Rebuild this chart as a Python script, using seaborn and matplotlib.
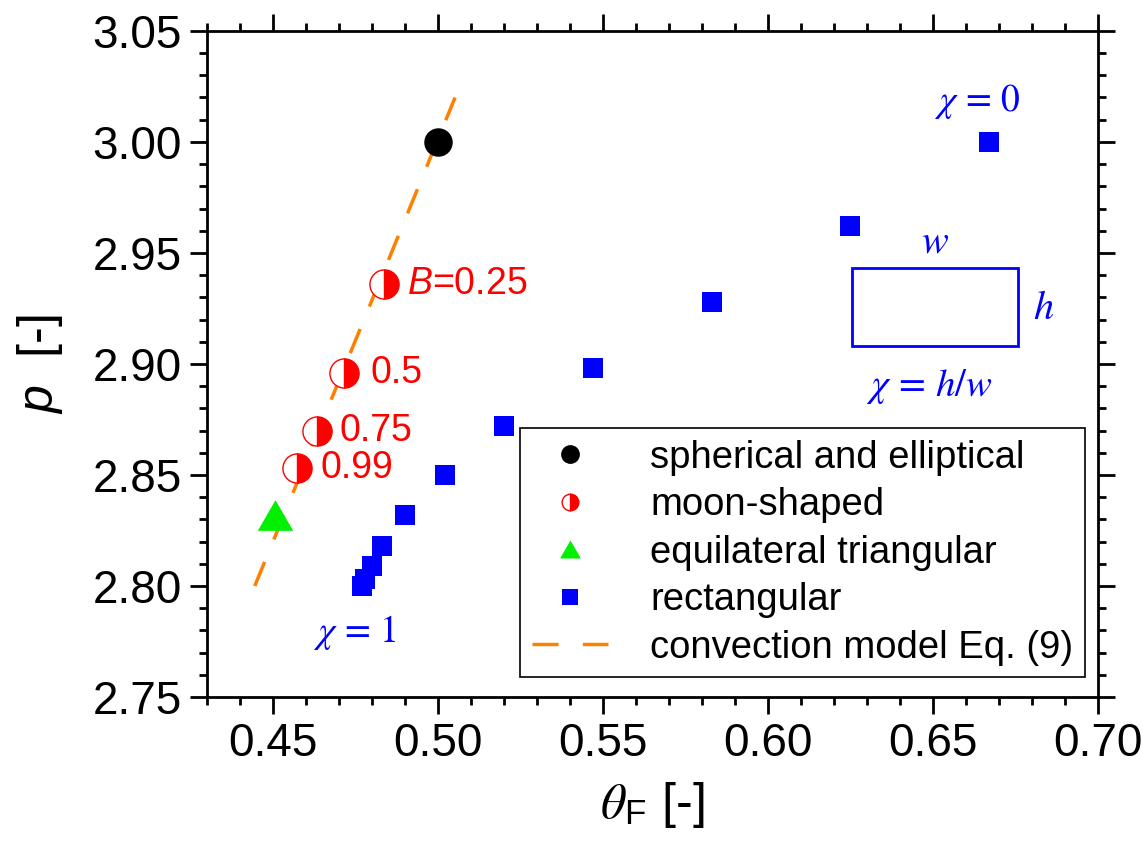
import numpy as np
import pandas as pd
import matplotlib
matplotlib.use('Agg')
import matplotlib.pyplot as plt
from matplotlib.lines import Line2D
from matplotlib.patches import Rectangle
from matplotlib.ticker import MultipleLocator, FormatStrFormatter
import seaborn as sns

# spherical and elliptical
sphere_theta = [0.500]
sphere_p = [3.000]

# moon-shaped, B = 0.25 ... 0.99
moon_labels = ['$B$=0.25', '0.5', '0.75', '0.99']
moon_theta = [0.4836, 0.4715, 0.4633, 0.4573]
moon_p = [2.936, 2.896, 2.870, 2.853]

# equilateral triangular
tri_theta = [0.4505]
tri_p = [2.832]

# rectangular, chi = 0 ... 1
rect_theta = [0.667, 0.625, 0.583, 0.547, 0.520, 0.502, 0.490, 0.483, 0.480, 0.478, 0.477]
rect_p = [3.000, 2.962, 2.928, 2.898, 2.872, 2.850, 2.832, 2.818, 2.809, 2.803, 2.800]

# convection model Eq. (9)
model_theta = [0.4445, 0.5052]
model_p = [2.800, 3.020]

sns.set_theme(style='white')
plt.rcParams['font.family'] = ['Liberation Sans', 'DejaVu Sans']
plt.rcParams['mathtext.fontset'] = 'custom'
plt.rcParams['mathtext.rm'] = 'Liberation Sans'
plt.rcParams['mathtext.it'] = 'Liberation Sans:italic'
plt.rcParams['mathtext.sf'] = 'Liberation Sans'
plt.rcParams['mathtext.bf'] = 'Liberation Sans:bold'
for k in ['text.color', 'axes.labelcolor', 'xtick.color', 'ytick.color', 'axes.edgecolor']:
    plt.rcParams[k] = 'black'

ORANGE = '#FF8000'
GREEN = '#00F000'
BLUE = '#0000FF'
tri_marker = [(-1, -0.866), (1, -0.866), (0, 0.866), (-1, -0.866)]

fig = plt.figure(figsize=(11.43, 8.48), dpi=100)
ax = fig.add_axes([0.181, 0.178, 0.7796, 0.7856])

# model line
sns.lineplot(x=model_theta, y=model_p, ax=ax, color=ORANGE, lw=2.5,
             estimator=None, sort=False, zorder=2)
ax.lines[-1].set_dashes((7.5, 7))

sns.scatterplot(x=rect_theta, y=rect_p, ax=ax, marker='s', s=225,
                color=BLUE, linewidth=0, zorder=3)
sns.scatterplot(x=tri_theta, y=tri_p, ax=ax, marker=tri_marker, s=650,
                color=GREEN, linewidth=0, zorder=3)
sns.scatterplot(x=sphere_theta, y=sphere_p, ax=ax, marker='o', s=420,
                color='black', linewidth=0, zorder=3)
sns.lineplot(x=moon_theta, y=moon_p, ax=ax, marker='o', linestyle='', ms=21,
             fillstyle='right', color='red', markerfacecoloralt='white',
             markeredgecolor='red', markeredgewidth=1.0,
             estimator=None, sort=False, zorder=4)

# labels for moon-shaped points
offsets = [17, 19, 16, 17]
for lab, x, y, dx in zip(moon_labels, moon_theta, moon_p, offsets):
    ax.annotate(lab, (x, y), xytext=(dx, 0), textcoords='offset points',
                color='red', fontsize=27, va='center', ha='left')

# chi annotations and sketch
ax.text(0.6633, 3.018, r'$\chi\,=\,0$', color=BLUE, fontsize=27, ha='center', va='center', math_fontfamily='stix')
ax.text(0.4748, 2.779, r'$\chi\,=\,1$', color=BLUE, fontsize=27, ha='center', va='center', math_fontfamily='stix')
ax.text(0.6506, 2.955, r'$w$', color=BLUE, fontsize=29, ha='center', va='center', math_fontfamily='stix')
ax.text(0.6836, 2.925, r'$h$', color=BLUE, fontsize=29, ha='center', va='center', math_fontfamily='stix')
ax.text(0.6488, 2.890, r'$\chi\,=\,h/w$', color=BLUE, fontsize=28, ha='center', va='center', math_fontfamily='stix')
ax.add_patch(Rectangle((0.6255, 2.9079), 0.0503, 0.0355, fill=False, ec=BLUE, lw=2, zorder=3))

ax.set_xlim(0.43, 0.70)
ax.set_ylim(2.75, 3.05)
ax.xaxis.set_major_locator(MultipleLocator(0.05))
ax.xaxis.set_minor_locator(MultipleLocator(0.01))
ax.yaxis.set_major_locator(MultipleLocator(0.05))
ax.yaxis.set_minor_locator(MultipleLocator(0.01))
ax.xaxis.set_major_formatter(FormatStrFormatter('%.2f'))
ax.yaxis.set_major_formatter(FormatStrFormatter('%.2f'))

ax.tick_params(which='both', direction='out', top=True, right=True,
               bottom=True, left=True, color='black', width=2, labelsize=33)
ax.tick_params(which='major', length=12, pad=6)
ax.tick_params(which='minor', length=6)
for sp in ax.spines.values():
    sp.set_visible(True)
    sp.set_linewidth(2)
    sp.set_color('black')

ax.set_xlabel(r'$\theta_{\mathregular{F}}$ [-]', fontsize=36, labelpad=10, math_fontfamily='stix')
ax.set_ylabel(r'$p$  [-]', fontsize=36, labelpad=20)

handles = [
    Line2D([], [], marker='o', color='black', ls='', ms=12.5),
    Line2D([], [], marker='o', color='red', ls='', ms=12, fillstyle='right',
           markerfacecoloralt='white', markeredgewidth=1.0),
    Line2D([], [], marker=tri_marker, color=GREEN, ls='', ms=15, mew=0),
    Line2D([], [], marker='s', color=BLUE, ls='', ms=11.5, mew=0),
    Line2D([], [], color=ORANGE, lw=2.5, dashes=(7.5, 7)),
]
labels = ['spherical and elliptical', 'moon-shaped', 'equilateral triangular',
          'rectangular', 'convection model Eq. (9)']
leg = ax.legend(handles, labels, loc='lower right', bbox_to_anchor=(0.985, 0.03),
                borderaxespad=0, fontsize=27.5, frameon=True, fancybox=False,
                framealpha=1, edgecolor='black', handlelength=2.0,
                handletextpad=1.1, labelspacing=0.3, borderpad=0.3)
leg.get_frame().set_linewidth(1.2)

fig.savefig('out.png', dpi=100)
